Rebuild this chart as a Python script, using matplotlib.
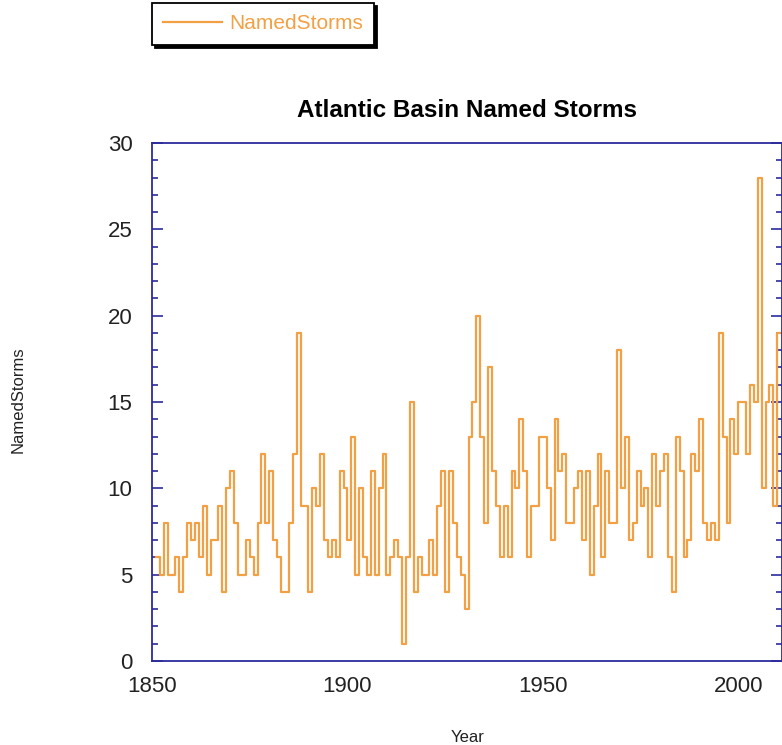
import matplotlib
matplotlib.use('Agg')
from matplotlib import pyplot as plt
from matplotlib.ticker import MultipleLocator

plt.rcParams['font.family'] = ['Liberation Sans', 'DejaVu Sans']

# 연도 (1851 ~ 2011)
years = list(range(1851, 2012))

# 대서양 이름 붙은 폭풍 수
named_storms = [
    6, 5, 8, 5, 5, 6, 4, 6, 8,                 # 1851-1859
    7, 8, 6, 9, 5, 7, 7, 9, 4, 10,             # 1860-1869
    11, 8, 5, 5, 7, 6, 5, 8, 12, 8,            # 1870-1879
    11, 7, 6, 4, 4, 8, 12, 19, 9, 9,           # 1880-1889
    4, 10, 9, 12, 7, 6, 7, 6, 11, 10,          # 1890-1899
    7, 13, 5, 10, 6, 5, 11, 5, 10, 12,         # 1900-1909
    5, 6, 7, 6, 1, 6, 15, 4, 6, 5,             # 1910-1919
    5, 7, 5, 9, 11, 4, 11, 8, 6, 5,            # 1920-1929
    3, 13, 15, 20, 13, 8, 17, 11, 9, 6,        # 1930-1939
    9, 6, 11, 10, 14, 11, 6, 9, 9, 13,         # 1940-1949
    13, 10, 7, 14, 11, 12, 8, 8, 10, 11,       # 1950-1959
    7, 11, 5, 9, 12, 6, 11, 8, 8, 18,          # 1960-1969
    10, 13, 7, 8, 11, 9, 10, 6, 12, 9,         # 1970-1979
    11, 12, 6, 4, 13, 11, 6, 7, 12, 11,        # 1980-1989
    14, 8, 7, 8, 7, 19, 13, 8, 14, 12,         # 1990-1999
    15, 15, 12, 16, 15, 28, 10, 15, 16, 9,     # 2000-2009
    19, 19,                                    # 2010-2011
]

x_ticks = [1850, 1900, 1950, 2000]
y_ticks = [0, 5, 10, 15, 20, 25, 30]

line_color = '#F2A043'
axis_color = '#2B2B9C'

W, H = 782, 745
fig = plt.figure(figsize=(W / 100, H / 100), dpi=100)
ax = fig.add_axes([152 / W, (H - 661) / H, (W - 152) / W, (661 - 143) / H])

ax.step(years, named_storms, where='post', color=line_color, lw=1.6,
        label='NamedStorms')

ax.set_xlim(1850, 2011.2)
ax.set_ylim(0, 30)
ax.set_xticks(x_ticks)
ax.set_yticks(y_ticks)
ax.yaxis.set_minor_locator(MultipleLocator(1))

for s in ax.spines.values():
    s.set_color(axis_color)
    s.set_linewidth(1.3)

ax.tick_params(axis='x', length=0, pad=11, labelsize=16, labelcolor='#222222')
ax.tick_params(axis='y', which='both', direction='in', left=True, right=True,
               color=axis_color, width=1.2, labelsize=16, labelcolor='#222222',
               pad=14)
ax.tick_params(axis='y', which='major', length=8)
ax.tick_params(axis='y', which='minor', length=4)

ax.set_title('Atlantic Basin Named Storms', fontsize=17.5, fontweight='bold',
             pad=19)
fig.text(468 / W, 1 - 738 / H, 'Year', ha='center', va='center', fontsize=12,
         color='#222222')
fig.text(18 / W, 1 - 400 / H, 'NamedStorms', ha='center', va='center',
         rotation=90, fontsize=12, color='#222222')

leg = ax.legend(loc='upper left', bbox_to_anchor=(152 / W, 1 - 3 / H),
                bbox_transform=fig.transFigure, borderaxespad=0,
                fancybox=False, shadow={'color': 'black', 'alpha': 1},
                edgecolor='black', framealpha=1, fontsize=15,
                handlelength=2.8, handletextpad=0.35, borderpad=0.55)
leg.get_frame().set_linewidth(1.3)
for t in leg.get_texts():
    t.set_color(line_color)

fig.savefig('out.png', dpi=100)
